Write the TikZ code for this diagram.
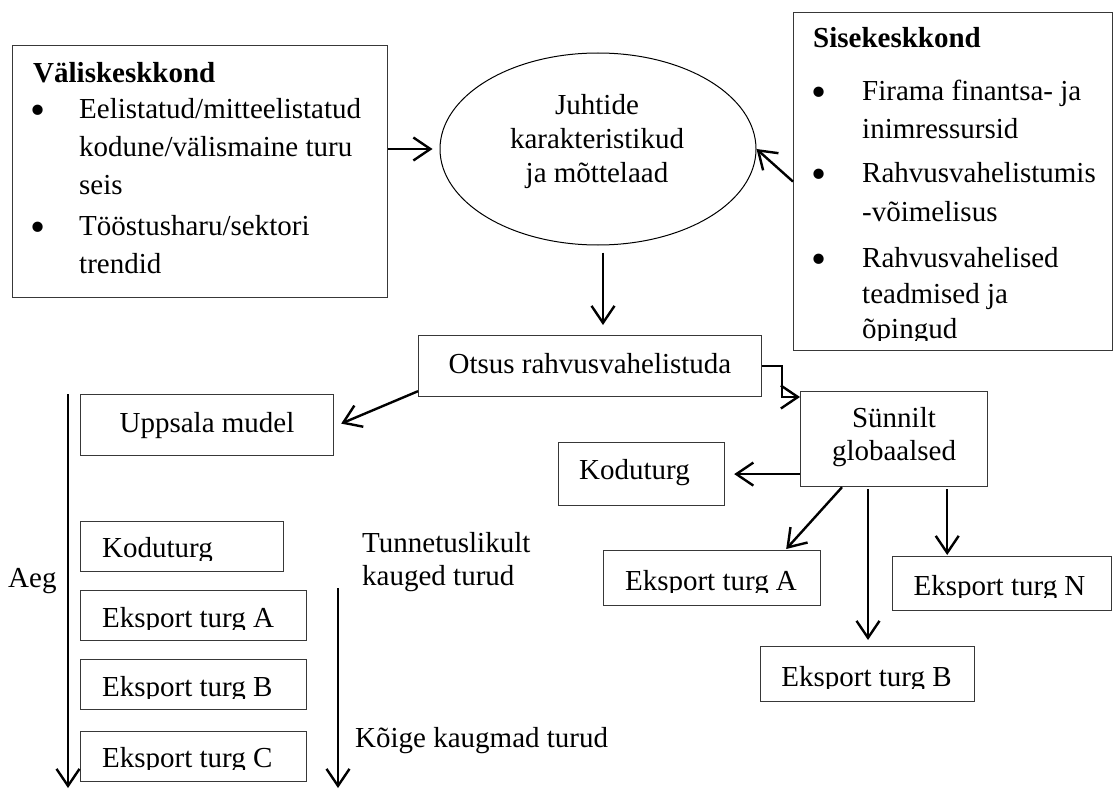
\documentclass[tikz,border=0pt]{standalone}
\usepackage{fontspec}
\setmainfont{Liberation Serif}
\usetikzlibrary{arrows.meta,shapes.geometric,calc}
\newcommand\bodyfs{\fontsize{29}{38}\selectfont}
\newcommand\bigdot{\raisebox{-6.5pt}{\fontsize{43}{43}\selectfont •}}
\tikzset{
  frame/.style={draw=black!78, line width=1.2pt, inner sep=0pt, anchor=north west},
  oval/.style={ellipse, draw=black, line width=1pt, inner sep=0pt},
  lbl/.style={inner sep=0pt, font=\bodyfs},
  arr/.style={line width=2.4pt, -{Straight Barb[length=17pt,width=23pt,line width=2.4pt]}},
}
\begin{document}
\begin{tikzpicture}[x=1pt,y=-1pt]
\useasboundingbox (0,0) rectangle (1113,789);

% ---- boxes ----
\node[frame, minimum width=375pt, minimum height=252pt] (val) at (12,45) {};
\node[frame, minimum width=319pt, minimum height=338pt] (sis) at (793,12) {};
\node[oval, minimum width=316pt, minimum height=192pt] (ell) at (598,149) {};
\node[frame, minimum width=343pt, minimum height=61pt] (otsus) at (418,335) {};
\node[frame, minimum width=253pt, minimum height=61pt] (upp) at (80,394) {};
\node[frame, minimum width=203pt, minimum height=50pt] (kodL) at (80,521) {};
\node[frame, minimum width=226pt, minimum height=50pt] (eaL) at (80,590) {};
\node[frame, minimum width=226pt, minimum height=50pt] (ebL) at (80,659) {};
\node[frame, minimum width=226pt, minimum height=50pt] (ecL) at (80,731) {};
\node[frame, minimum width=187pt, minimum height=95pt] (sun) at (800,391) {};
\node[frame, minimum width=166pt, minimum height=63pt] (kodR) at (558,442) {};
\node[frame, minimum width=217pt, minimum height=55pt] (eaR) at (603,550) {};
\node[frame, minimum width=219pt, minimum height=54pt] (enR) at (892,556) {};
\node[frame, minimum width=214pt, minimum height=55pt] (ebR) at (760,646) {};

% ---- external environment ----
\node[lbl, anchor=base west] (valT) at (33,83) {\textbf{Väliskeskkond}};
\node[lbl, anchor=base] (valB1) at (38,118) {\bigdot};
\node[lbl, anchor=base] (valB2) at (38,235) {\bigdot};
\node[lbl, anchor=north west, align=left] (valI1) at (79,98.2)
  {Eelistatud/mitteelistatud\\kodune/välismaine turu\\seis};
\node[lbl, anchor=north west, align=left] (valI2) at (79,215.2)
  {Tööstusharu/sektori\\trendid};

% ---- internal environment ----
\node[lbl, anchor=base west] (sisT) at (813,48) {\textbf{Sisekeskkond}};
\node[lbl, anchor=base] (sisB1) at (819,100) {\bigdot};
\node[lbl, anchor=base] (sisB2) at (819,182) {\bigdot};
\node[lbl, anchor=base] (sisB3) at (819,267) {\bigdot};
\node[lbl, anchor=north west, align=left] (sisI1) at (862,80.2)
  {Firama finantsa- ja\\inimressursid};
\node[lbl, anchor=north west, align=left, font=\fontsize{29}{39}\selectfont] (sisI2) at (862,162.2)
  {Rahvusvahelistumis\\-võimelisus};
\begin{scope}
  \clip (793,12) rectangle (1112,340);
  \node[lbl, anchor=north west, align=left, font=\fontsize{29}{35.5}\selectfont] (sisI3) at (862,247.2)
    {Rahvusvahelised\\teadmised ja\\õpingud};
\end{scope}

% ---- centre ----
\node[lbl, anchor=north, align=center, font=\fontsize{29}{34}\selectfont] (ellT) at (597,94.2)
  {Juhtide\\karakteristikud\\ja mõttelaad};
\node[lbl, anchor=base] (otsusT) at (590,373) {Otsus rahvusvahelistuda};

% ---- Uppsala model ----
\node[lbl, anchor=base] (uppT) at (207,432) {Uppsala mudel};
\begin{scope}
  \clip (80,521) rectangle (283,560);
  \node[lbl, anchor=base west] (kodLT) at (102,557) {Koduturg};
\end{scope}
\begin{scope}
  \clip (80,590) rectangle (306,629);
  \node[lbl, anchor=base west] (eaLT) at (102,627) {Eksport turg A};
\end{scope}
\begin{scope}
  \clip (80,659) rectangle (306,698);
  \node[lbl, anchor=base west] (ebLT) at (102,696) {Eksport turg B};
\end{scope}
\begin{scope}
  \clip (80,731) rectangle (306,769);
  \node[lbl, anchor=base west] (ecLT) at (102,767) {Eksport turg C};
\end{scope}
\node[lbl, anchor=base west] (aeg) at (8,587) {Aeg};
\node[lbl, anchor=north west, align=left, font=\fontsize{29}{33}\selectfont] (tunn) at (362,532.2)
  {Tunnetuslikult\\kauged turud};
\node[lbl, anchor=base west] (koige) at (355,747) {Kõige kaugmad turud};

% ---- born global ----
\node[lbl, anchor=north, align=center, font=\fontsize{29}{33}\selectfont] (sunT) at (894,407.2)
  {Sünnilt\\globaalsed};
\node[lbl, anchor=base] (kodRT) at (634.5,479) {Koduturg};
\begin{scope}
  \clip (603,550) rectangle (820,592);
  \node[lbl, anchor=base] (eaRT) at (711,590) {Eksport turg A};
\end{scope}
\begin{scope}
  \clip (892,556) rectangle (1111,597);
  \node[lbl, anchor=base] (enRT) at (999.5,595) {Eksport turg N};
\end{scope}
\begin{scope}
  \clip (760,646) rectangle (974,688);
  \node[lbl, anchor=base] (ebRT) at (866.5,686) {Eksport turg B};
\end{scope}

% ---- connectors ----
\draw[arr, shorten >=7pt] (val.east |- ell.west) -- (ell.west);
\draw[arr] (sis.west) -- (ell.east);
\draw[arr] ($(ell.south)+(5,7)$) -- ($(ell.south |- otsus.north)+(5,-10)$);
\draw[arr] (otsus.east) -- ++(20,0) |- ($(sun.north west)+(0,6)$);
\draw[arr] ($(otsus.south west)+(0,-6)$) -- ($(upp.east)+(7,-1.5)$);
\draw[arr] (sun.west |- kodR.east) -- ($(kodR.east)+(9,0)$);
\draw[arr] ($(sun.south west)+(42,0)$) -- ($(eaR.north east)+(-35,-1)$);
\coordinate (bStart) at ($(sun.south west)+(68,2)$);
\draw[arr] (bStart) -- ($(bStart |- ebR.north)+(0,-6)$);
\coordinate (nStart) at ($(sun.south east)+(-41,2)$);
\draw[arr] (nStart) -- ($(nStart |- enR.north)+(0,-1)$);

% ---- time axes ----
\coordinate (aegTop) at ($(upp.north west)+(-12,0)$);
\coordinate (aegEnd) at (68,788);
\draw[arr] (aegTop) -- (aegEnd);
\coordinate (distTop) at (338,588);
\coordinate (distEnd) at (338,788);
\draw[arr] (distTop) -- (distEnd);
\end{tikzpicture}
\end{document}
